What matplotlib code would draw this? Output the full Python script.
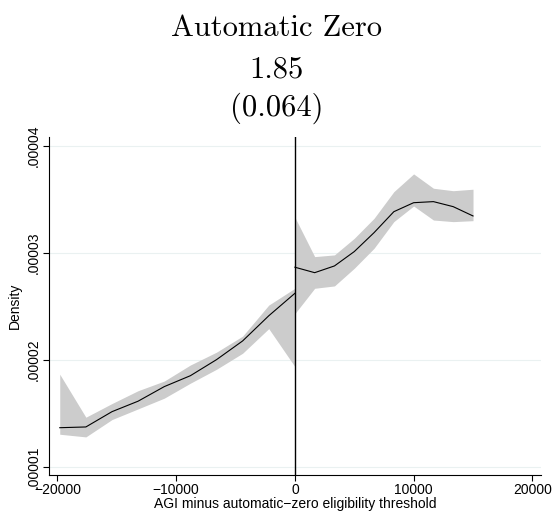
import matplotlib
matplotlib.use('Agg')
import matplotlib.pyplot as plt

# left of threshold
x_left = [-19800, -17600, -15400, -13200, -11000, -8800, -6600, -4400, -2200, 0]
y_left = [1.364, 1.371, 1.514, 1.612, 1.748, 1.85, 2.00, 2.175, 2.41, 2.62]
lo_left = [1.303, 1.278, 1.44, 1.54, 1.64, 1.78, 1.91, 2.06, 2.29, 1.935]
hi_left = [1.864, 1.462, 1.59, 1.71, 1.80, 1.95, 2.07, 2.22, 2.51, 2.667]

# right of threshold
x_right = [0, 1667, 3333, 5000, 6667, 8333, 10000, 11667, 13333, 15000]
y_right = [2.864, 2.813, 2.876, 3.01, 3.187, 3.383, 3.467, 3.477, 3.43, 3.343]
lo_right = [2.43, 2.667, 2.689, 2.854, 3.041, 3.29, 3.436, 3.305, 3.29, 3.299]
hi_right = [3.331, 2.963, 2.979, 3.134, 3.321, 3.57, 3.736, 3.602, 3.579, 3.593]

scale = 1e-5
yticks = [1e-5, 2e-5, 3e-5, 4e-5]
ytick_labels = ['.00001', '.00002', '.00003', '.00004']
xticks = [-20000, -10000, 0, 10000, 20000]
xtick_labels = ['\u221220000', '\u221210000', '0', '10000', '20000']

sans = 'Liberation Sans'
band = '#cccccc'
fs = 10

fig = plt.figure(figsize=(5.53, 5.11), dpi=100)
ax = fig.add_axes([49.3 / 553, 1 - 475 / 511, (540.7 - 49.3) / 553, (475 - 137) / 511])

ax.fill_between(x_left, [v * scale for v in lo_left], [v * scale for v in hi_left],
                color=band, lw=0)
ax.fill_between(x_right, [v * scale for v in lo_right], [v * scale for v in hi_right],
                color=band, lw=0)
ax.plot(x_left, [v * scale for v in y_left], color='black', lw=0.8)
ax.plot(x_right, [v * scale for v in y_right], color='black', lw=0.8)
ax.axvline(0, color='black', lw=1.0)

ax.set_xlim(-20680, 20700)
ax.set_ylim(0.922e-5, 4.081e-5)

ax.set_yticks(yticks)
ax.set_yticklabels(ytick_labels, rotation=90, va='center', family=sans, fontsize=fs)
ax.set_xticks(xticks)
ax.set_xticklabels(xtick_labels, family=sans, fontsize=fs)
ax.tick_params(length=4, width=0.8, pad=2)
ax.grid(axis='y', color='#eaf1f1', lw=0.8)
ax.set_axisbelow(True)

for s in ['top', 'right']:
    ax.spines[s].set_visible(False)
for s in ['left', 'bottom']:
    ax.spines[s].set_linewidth(0.8)

ax.set_ylabel('Density', family=sans, fontsize=fs, labelpad=4)
ax.set_xlabel('AGI minus automatic\u2212zero eligibility threshold', family=sans,
              fontsize=fs, labelpad=0)

# title block (Stata-style, serif)
fig.text(0.5, 1 - 35.6 / 511, 'Automatic Zero', family='cmr10', fontsize=22,
         ha='center', va='baseline')
fig.text(0.5, 1 - 77.6 / 511, '1.85', family='cmr10', fontsize=22,
         ha='center', va='baseline')
fig.text(0.5, 1 - 116.0 / 511, '(0.064)', family='cmr10', fontsize=22,
         ha='center', va='baseline')

fig.savefig('out.png', dpi=100)
